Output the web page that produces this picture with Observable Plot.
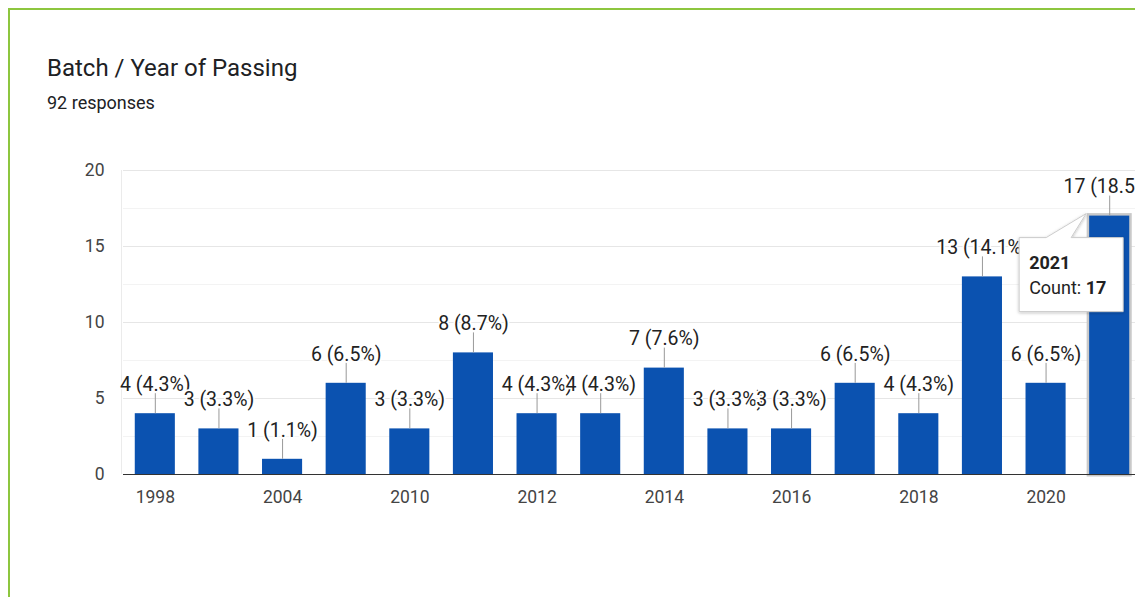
<!DOCTYPE html>
<html>
<head>
<meta charset="utf-8">
<script src="https://cdn.jsdelivr.net/npm/d3@7"></script>
<script src="https://cdn.jsdelivr.net/npm/@observablehq/plot@0.6"></script>
<style>
  html, body { margin: 0; padding: 0; background: #fff; }
  #page { position: relative; width: 1135px; height: 597px; overflow: hidden; background: #fff; font-family: Roboto, "Noto Sans", sans-serif; }
  #frame { position: absolute; left: 8px; top: 8px; width: 1200px; height: 700px; border-top: 2.5px solid #8dc63f; border-left: 2.5px solid #8dc63f; box-sizing: border-box; }
  #title { position: absolute; left: 47px; top: 54px; font-size: 24px; color: #202124; line-height: 28px; white-space: nowrap; }
  #subtitle { position: absolute; left: 47px; top: 93px; font-size: 18px; color: #202124; line-height: 20px; white-space: nowrap; }
  #chart { position: absolute; left: 0; top: 140px; width: 1160px; }
  #chart svg { overflow: visible; max-width: none !important; }
</style>
</head>
<body>
<div id="page">
  <div id="frame"></div>
  <div id="title">Batch / Year of Passing</div>
  <div id="subtitle">92 responses</div>
  <div id="chart"></div>
</div>
<script>
// ---- data ----
const years = ["1998", "2003", "2004", "2009", "2010", "2011", "2012", "2013", "2014", "2015", "2016", "2017", "2018", "2019", "2020", "2021"];
const counts = [4, 3, 1, 6, 3, 8, 4, 4, 7, 3, 3, 6, 4, 13, 6, 17];
const totalResponses = 92;
const yMajorTicks = [0, 5, 10, 15, 20];
const yMinorTicks = [2.5, 7.5, 12.5, 17.5];
const xTickLabels = ["1998", "2004", "2010", "2012", "2014", "2016", "2018", "2020"];
const tooltipYear = "2021";

const data = years.map((year, i) => ({
  year,
  count: counts[i],
  label: `${counts[i]} (${(counts[i] / totalResponses * 100).toFixed(1)}%)`
}));

const W = 1160, H = 374, mT = 30, mB = 40, mL = 123, mR = 19;
const pxPerUnit = (H - mT - mB) / 20;
const stemPx = 20;

const chart = Plot.plot({
  width: W,
  height: H,
  marginLeft: mL,
  marginRight: mR,
  marginTop: mT,
  marginBottom: mB,
  style: { fontFamily: "Roboto, 'Noto Sans', sans-serif", fontSize: "17.5px", color: "#444", background: "transparent", overflow: "visible", maxWidth: "none" },
  x: {
    domain: years,
    paddingInner: 0.37,
    paddingOuter: 0.185,
    round: false,
    label: null,
    tickSize: 0,
    tickPadding: 16,
    tickFormat: d => xTickLabels.includes(d) ? d : ""
  },
  y: {
    domain: [0, 20],
    label: null,
    ticks: yMajorTicks,
    tickSize: 0,
    tickPadding: 19
  },
  marks: [
    Plot.ruleY(yMinorTicks, { stroke: "#f3f3f3" }),
    Plot.ruleY(yMajorTicks, { stroke: "#e6e6e6" }),
    Plot.barY(data.filter(d => d.year === tooltipYear), { x: "year", y: "count", fill: "none", stroke: "#c9c9c9", strokeWidth: 5 }),
    Plot.barY(data, { x: "year", y: "count", fill: "#0b52b0" }),
    Plot.ruleY([0], { stroke: "#333", strokeWidth: 1.2 }),
    Plot.ruleX(data, { x: "year", y1: "count", y2: d => d.count + stemPx / pxPerUnit, stroke: "#999", strokeWidth: 1 }),
    Plot.text(data, { x: "year", y: "count", text: "label", dy: -29, fontSize: 19.5, fill: "#222", stroke: "white", strokeWidth: 3.5, paintOrder: "stroke" })
  ]
});

document.getElementById("chart").appendChild(chart);

// left edge of plotting area, placed beneath all marks
const svg = d3.select(chart);
const xs = chart.scale("x");
const ys = chart.scale("y");
svg.insert("line", ":first-child")
  .attr("x1", xs.range[0] - 1.5).attr("x2", xs.range[0] - 1.5)
  .attr("y1", ys.apply(20)).attr("y2", ys.apply(0))
  .attr("stroke", "#ebebeb");

// hover tooltip anchored to the 2021 bar
const bx = xs.apply(tooltipYear);
const by = ys.apply(counts[years.indexOf(tooltipYear)]);
const boxL = bx - 70, boxR = bx + 34, boxT = by + 22, boxB = by + 96;
const defs = svg.append("defs");
const f = defs.append("filter").attr("id", "tipShadow").attr("x", "-20%").attr("y", "-20%").attr("width", "140%").attr("height", "140%");
f.append("feDropShadow").attr("dx", 0).attr("dy", 1).attr("stdDeviation", 1.5).attr("flood-color", "#000").attr("flood-opacity", 0.25);
const tip = svg.append("g").attr("text-anchor", "start");
tip.append("path")
  .attr("d", `M${boxL},${boxT} L${boxL + 27},${boxT} L${bx - 3},${by - 2} L${boxL + 52},${boxT} L${boxR},${boxT} L${boxR},${boxB} L${boxL},${boxB} Z`)
  .attr("fill", "white")
  .attr("stroke", "#cccccc")
  .attr("stroke-width", 1)
  .attr("filter", "url(#tipShadow)");
tip.append("text")
  .attr("x", boxL + 10).attr("y", boxT + 31)
  .attr("font-family", "Roboto, sans-serif").attr("font-size", 18).attr("font-weight", "bold").attr("fill", "#222")
  .text(tooltipYear);
const t2 = tip.append("text")
  .attr("x", boxL + 10).attr("y", boxT + 56)
  .attr("font-family", "Roboto, sans-serif").attr("font-size", 18).attr("fill", "#222");
t2.append("tspan").text("Count: ");
t2.append("tspan").attr("font-weight", "bold").text(String(counts[years.indexOf(tooltipYear)]));
</script>
</body>
</html>
